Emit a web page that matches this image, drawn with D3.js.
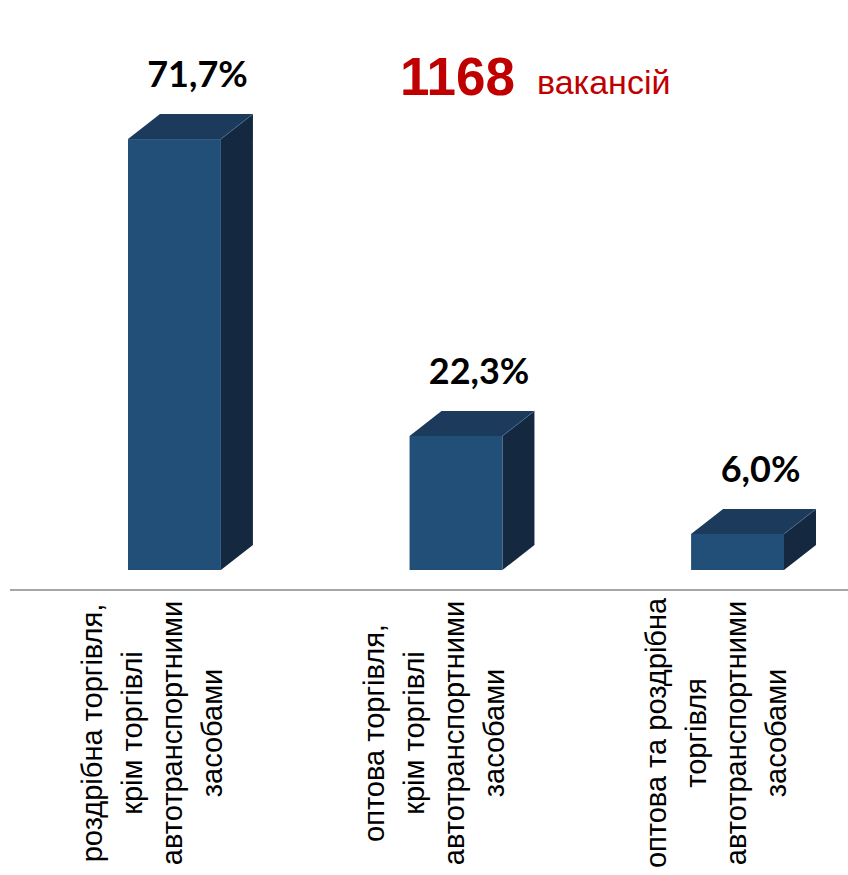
<!DOCTYPE html>
<html><head><meta charset="utf-8">
<script src="https://cdn.jsdelivr.net/npm/d3@7/dist/d3.min.js"></script>
<style>body{margin:0;background:#fff}svg{display:block}</style>
</head><body>
<script>
const categories = [
  ["роздрібна торгівля,", "крім торгівлі", "автотранспортними", "засобами"],
  ["оптова торгівля,", "крім торгівлі", "автотранспортними", "засобами"],
  ["оптова та роздрібна", "торгівля", "автотранспортними", "засобами"]
];
const values = [71.7, 22.3, 6.0];
const valueLabels = ["71,7%", "22,3%", "6,0%"];
const totalNumber = "1168";
const totalWord = "вакансій";

const W = 848, H = 875;
const svg = d3.select("body").append("svg").attr("width", W).attr("height", H);

const ids = categories.map((c, i) => i);
const x = d3.scaleBand().domain(ids).range([128, 784]).paddingInner(0.67).paddingOuter(0);
const y = d3.scaleLinear().domain([0, 100]).range([570, -31]);
const dx = 32, dy = 25;
const bw = x.bandwidth();

// axis line
svg.append("line").attr("x1", 10).attr("x2", W).attr("y1", 590).attr("y2", 590)
  .attr("stroke", "#A6A6A6").attr("stroke-width", 2);

const g = svg.append("g").selectAll("g").data(values).join("g");
// side face
g.append("path").attr("fill", "#14283F")
  .attr("d", (d, i) => {
    const x1 = x(i) + bw, yt = y(d), yb = y(0);
    return `M${x1},${yt} L${x1+dx},${yt-dy} L${x1+dx},${yb-dy} L${x1},${yb} Z`;
  });
// top face
g.append("path").attr("fill", "#1C3B5C")
  .attr("d", (d, i) => {
    const x0 = x(i), yt = y(d);
    return `M${x0},${yt} L${x0+dx},${yt-dy} L${x0+bw+dx},${yt-dy} L${x0+bw},${yt} Z`;
  });
// edge highlight
g.append("path").attr("fill", "none").attr("stroke", "#4A6A8A").attr("stroke-width", 0.8)
  .attr("d", (d, i) => {
    const x1 = x(i) + bw, yt = y(d);
    return `M${x1},${yt} L${x1+dx},${yt-dy}`;
  });
// front face
g.append("rect").attr("fill", "#214F77")
  .attr("x", (d, i) => x(i)).attr("y", d => y(d))
  .attr("width", bw).attr("height", d => y(0) - y(d));

// value labels
svg.append("g").selectAll("text").data(values).join("text")
  .attr("x", (d, i) => x(i) + bw / 2 + dx * 0.72)
  .attr("y", d => y(d) - dy - 27)
  .attr("text-anchor", "middle")
  .attr("font-family", "Lato, 'Open Sans', sans-serif")
  .attr("font-weight", 700).attr("font-size", 36).attr("fill", "#000")
  .text((d, i) => valueLabels[i]);

// category labels
const lineGap = 40;
const cy = 733;
categories.forEach((lines, i) => {
  const cx = x(i) + bw / 2 - 22;
  lines.forEach((ln, j) => {
    const lx = cx + (j - (lines.length - 1) / 2) * lineGap;
    svg.append("text")
      .attr("transform", `translate(${lx},${cy}) rotate(-90)`)
      .attr("text-anchor", "middle").attr("dominant-baseline", "central")
      .attr("font-family", "'Liberation Sans', Arial, sans-serif")
      .attr("font-size", 29).attr("fill", "#000")
      .text(ln);
  });
});

// title
const t = svg.append("text").attr("x", 400).attr("y", 95)
  .attr("font-family", "'Liberation Sans', Arial, sans-serif").attr("fill", "#C00000");
t.append("tspan").attr("font-weight", 700).attr("font-size", 53).text(totalNumber);
t.append("tspan").attr("dx", 22).attr("font-size", 34).attr("dy", -1).text(totalWord);
</script>
</body></html>
